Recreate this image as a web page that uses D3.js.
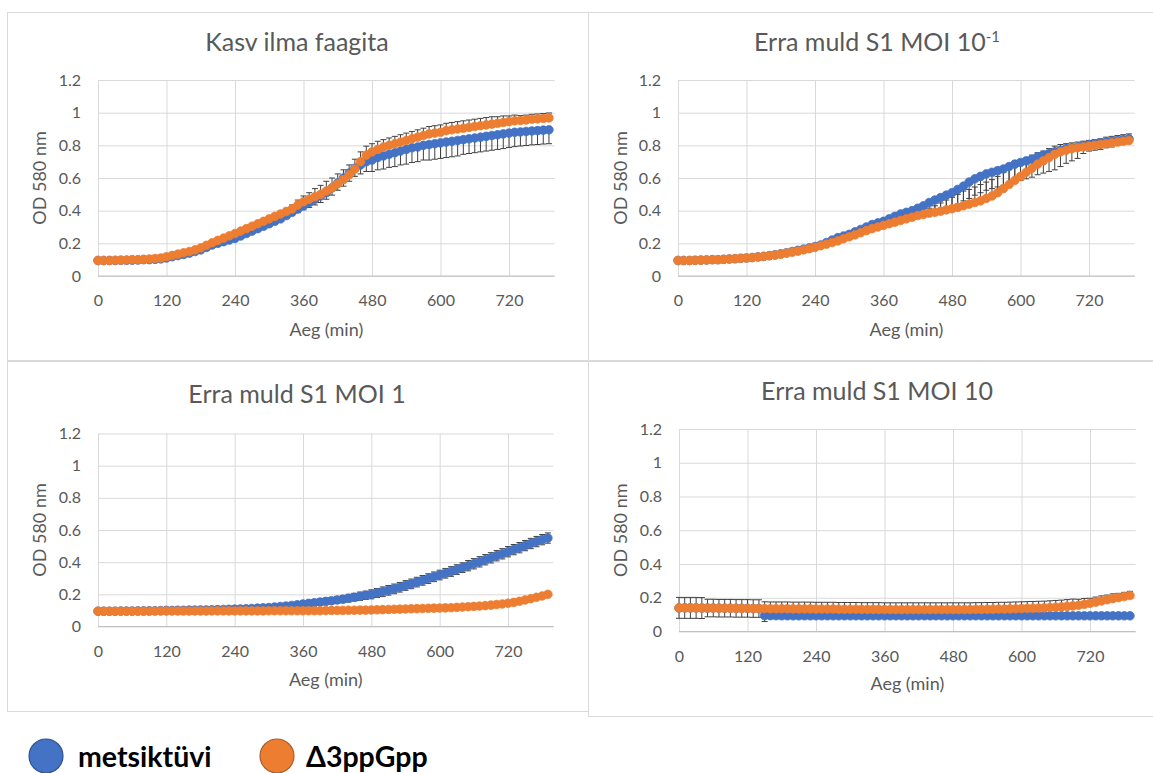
<!DOCTYPE html>
<html><head><meta charset="utf-8">
<script src="https://cdn.jsdelivr.net/npm/d3@7"></script>
<style>
body{margin:0;background:#fff}
svg{display:block}
text{font-family:Lato,"Open Sans",sans-serif}
</style>
</head><body>
<svg id="chart" width="1153" height="773"></svg>
<script>
// ---------- data ----------
const times = [0,10,20,30,40,50,60,70,80,90,100,110,120,130,140,150,160,170,180,190,
200,210,220,230,240,250,260,270,280,290,300,310,320,330,340,350,360,370,380,390,
400,410,420,430,440,450,460,470,480,490,500,510,520,530,540,550,560,570,580,590,
600,610,620,630,640,650,660,670,680,690,700,710,720,730,740,750,760,770,780,790];

const xTicks = [0,120,240,360,480,600,720];
const yTicks = [0,0.2,0.4,0.6,0.8,1,1.2];
const yTickLabels = ["0","0.2","0.4","0.6","0.8","1","1.2"];
const seriesNames = ["metsiktüvi","Δ3ppGpp"];
const panelTitles = ["Kasv ilma faagita","Erra muld S1 MOI 10","Erra muld S1 MOI 1","Erra muld S1 MOI 10"];
const panelTitleSup = ["","-1","",""];
const xAxisTitle = "Aeg (min)";
const yAxisTitle = "OD 580 nm";

// Panel 1: Kasv ilma faagita
const p1Wild = [0.095,0.095,0.095,0.095,0.096,0.096,0.097,0.098,0.100,0.100,
0.102,0.105,0.110,0.118,0.125,0.132,0.140,0.150,0.160,0.175,
0.190,0.200,0.210,0.220,0.230,0.245,0.260,0.275,0.290,0.305,
0.320,0.335,0.350,0.370,0.390,0.410,0.430,0.450,0.470,0.490,
0.510,0.540,0.570,0.600,0.630,0.660,0.680,0.700,0.710,0.725,
0.735,0.745,0.755,0.765,0.775,0.785,0.790,0.800,0.805,0.810,
0.815,0.820,0.825,0.830,0.835,0.840,0.845,0.850,0.855,0.860,
0.865,0.870,0.875,0.880,0.882,0.885,0.888,0.890,0.893,0.895];
const p1Mut = [0.095,0.095,0.095,0.096,0.097,0.098,0.100,0.100,0.102,0.104,
0.107,0.110,0.118,0.126,0.134,0.142,0.150,0.160,0.172,0.188,
0.204,0.218,0.232,0.246,0.260,0.275,0.290,0.305,0.320,0.335,
0.350,0.365,0.380,0.395,0.410,0.435,0.455,0.470,0.485,0.500,
0.520,0.540,0.565,0.590,0.620,0.655,0.700,0.740,0.760,0.775,
0.790,0.800,0.810,0.820,0.830,0.840,0.850,0.860,0.870,0.875,
0.880,0.890,0.895,0.900,0.905,0.910,0.915,0.920,0.925,0.930,
0.935,0.940,0.945,0.950,0.952,0.955,0.960,0.962,0.965,0.968];
// wild type: minus error bars; mutant: plus error bars
const p1WildErr = [0.01,0.01,0.01,0.01,0.01,0.01,0.01,0.01,0.01,0.01,
0.01,0.01,0.01,0.01,0.01,0.01,0.01,0.01,0.01,0.01,
0.01,0.01,0.01,0.01,0.01,0.01,0.01,0.01,0.01,0.01,
0.012,0.014,0.016,0.018,0.02,0.022,0.025,0.03,0.035,0.04,
0.04,0.045,0.045,0.05,0.05,0.05,0.055,0.06,0.07,0.075,
0.08,0.08,0.085,0.085,0.09,0.09,0.09,0.09,0.095,0.095,
0.095,0.095,0.095,0.095,0.09,0.09,0.09,0.09,0.09,0.09,
0.09,0.09,0.088,0.088,0.086,0.086,0.085,0.085,0.085,0.085];
const p1MutErr = [0.008,0.008,0.008,0.008,0.008,0.008,0.008,0.008,0.008,0.008,
0.008,0.008,0.008,0.008,0.008,0.008,0.008,0.008,0.008,0.008,
0.008,0.008,0.008,0.008,0.008,0.008,0.008,0.008,0.008,0.008,
0.012,0.015,0.018,0.02,0.025,0.03,0.035,0.04,0.05,0.055,
0.06,0.06,0.06,0.06,0.06,0.06,0.06,0.055,0.05,0.05,
0.045,0.045,0.045,0.045,0.045,0.045,0.045,0.045,0.045,0.045,
0.045,0.045,0.045,0.045,0.045,0.045,0.045,0.045,0.045,0.045,
0.04,0.04,0.035,0.035,0.03,0.03,0.03,0.03,0.03,0.03];

// Panel 2: MOI 10^-1
const p2Wild = [0.095,0.095,0.095,0.096,0.097,0.098,0.100,0.100,0.102,0.104,
0.106,0.108,0.110,0.113,0.117,0.120,0.125,0.130,0.136,0.142,
0.150,0.157,0.165,0.172,0.180,0.190,0.205,0.220,0.235,0.245,
0.255,0.270,0.285,0.300,0.315,0.325,0.335,0.350,0.365,0.380,
0.390,0.400,0.415,0.430,0.450,0.465,0.480,0.495,0.510,0.530,
0.550,0.575,0.595,0.610,0.625,0.635,0.645,0.655,0.670,0.685,
0.695,0.705,0.715,0.730,0.740,0.750,0.760,0.770,0.780,0.785,
0.790,0.800,0.805,0.810,0.815,0.820,0.825,0.830,0.835,0.840];
const p2Mut = [0.095,0.095,0.095,0.096,0.097,0.098,0.100,0.100,0.102,0.104,
0.106,0.108,0.110,0.113,0.116,0.120,0.124,0.128,0.133,0.140,
0.146,0.152,0.160,0.167,0.175,0.185,0.195,0.205,0.215,0.228,
0.240,0.252,0.265,0.278,0.290,0.300,0.310,0.320,0.330,0.340,
0.350,0.360,0.370,0.377,0.385,0.390,0.397,0.405,0.412,0.420,
0.430,0.440,0.450,0.460,0.475,0.490,0.510,0.535,0.560,0.585,
0.610,0.635,0.660,0.685,0.705,0.725,0.745,0.760,0.770,0.780,
0.785,0.790,0.795,0.800,0.805,0.810,0.815,0.820,0.825,0.830];
const p2WildErr = [0.01,0.01,0.01,0.01,0.01,0.01,0.01,0.01,0.01,0.01,
0.01,0.01,0.01,0.01,0.01,0.01,0.01,0.01,0.01,0.01,
0.01,0.01,0.01,0.01,0.01,0.01,0.01,0.01,0.01,0.01,
0.01,0.01,0.01,0.01,0.01,0.01,0.01,0.01,0.01,0.01,
0.015,0.02,0.03,0.04,0.05,0.06,0.07,0.08,0.08,0.09,
0.09,0.1,0.1,0.1,0.1,0.1,0.1,0.1,0.1,0.11,
0.11,0.11,0.11,0.11,0.11,0.11,0.11,0.1,0.09,0.08,
0.07,0.05,0.04,0.04,0.04,0.035,0.035,0.03,0.03,0.03];
const p2MutErr = [0.01,0.01,0.01,0.01,0.01,0.01,0.01,0.01,0.01,0.01,
0.01,0.01,0.01,0.01,0.01,0.01,0.01,0.01,0.01,0.01,
0.01,0.01,0.01,0.01,0.01,0.01,0.01,0.01,0.01,0.01,
0.01,0.01,0.01,0.01,0.01,0.01,0.01,0.01,0.01,0.01,
0.01,0.01,0.01,0.01,0.03,0.04,0.05,0.06,0.07,0.08,
0.09,0.09,0.095,0.1,0.1,0.1,0.1,0.1,0.1,0.095,
0.09,0.085,0.08,0.07,0.06,0.055,0.05,0.045,0.04,0.035,
0.035,0.035,0.035,0.035,0.035,0.04,0.04,0.04,0.04,0.04];

// Panel 3: MOI 1
const p3Wild = [0.095,0.095,0.095,0.095,0.096,0.096,0.096,0.097,0.097,0.098,
0.098,0.099,0.100,0.100,0.101,0.101,0.102,0.102,0.103,0.103,
0.104,0.105,0.106,0.107,0.108,0.109,0.110,0.112,0.114,0.116,
0.118,0.121,0.124,0.127,0.131,0.135,0.140,0.144,0.148,0.152,
0.156,0.160,0.165,0.170,0.176,0.182,0.188,0.194,0.200,0.208,
0.216,0.225,0.234,0.244,0.255,0.265,0.276,0.287,0.298,0.309,
0.320,0.331,0.342,0.354,0.366,0.378,0.390,0.402,0.415,0.427,
0.440,0.452,0.465,0.478,0.490,0.503,0.516,0.528,0.540,0.550];
const p3Mut = [0.095,0.095,0.095,0.095,0.095,0.095,0.095,0.095,0.095,0.095,
0.096,0.096,0.096,0.096,0.096,0.096,0.096,0.096,0.096,0.096,
0.097,0.097,0.097,0.097,0.097,0.097,0.097,0.097,0.097,0.097,
0.098,0.098,0.098,0.098,0.098,0.098,0.098,0.098,0.098,0.098,
0.099,0.100,0.100,0.100,0.101,0.101,0.102,0.102,0.103,0.104,
0.105,0.106,0.107,0.108,0.109,0.110,0.111,0.112,0.113,0.114,
0.115,0.116,0.117,0.119,0.121,0.123,0.125,0.127,0.130,0.133,
0.137,0.140,0.145,0.150,0.157,0.165,0.173,0.182,0.190,0.200];
const p3WildErr = [0.006,0.006,0.006,0.006,0.006,0.006,0.006,0.006,0.006,0.006,
0.006,0.006,0.006,0.006,0.006,0.006,0.006,0.006,0.006,0.006,
0.006,0.006,0.006,0.006,0.006,0.006,0.006,0.006,0.006,0.006,
0.01,0.01,0.012,0.012,0.014,0.014,0.016,0.016,0.018,0.018,
0.02,0.02,0.022,0.022,0.024,0.024,0.026,0.026,0.028,0.028,
0.03,0.03,0.03,0.03,0.03,0.03,0.03,0.03,0.03,0.03,
0.03,0.03,0.03,0.03,0.03,0.032,0.032,0.032,0.032,0.032,
0.032,0.032,0.032,0.032,0.032,0.032,0.032,0.032,0.032,0.032];
const p3MutErr = [0.005,0.005,0.005,0.005,0.005,0.005,0.005,0.005,0.005,0.005,
0.005,0.005,0.005,0.005,0.005,0.005,0.005,0.005,0.005,0.005,
0.005,0.005,0.005,0.005,0.005,0.005,0.005,0.005,0.005,0.005,
0.005,0.005,0.005,0.005,0.005,0.005,0.005,0.005,0.005,0.005,
0.005,0.005,0.005,0.005,0.005,0.005,0.005,0.005,0.005,0.005,
0.005,0.005,0.005,0.005,0.005,0.005,0.005,0.005,0.005,0.005,
0.006,0.006,0.006,0.006,0.006,0.006,0.006,0.006,0.006,0.006,
0.007,0.007,0.007,0.007,0.007,0.007,0.007,0.007,0.007,0.007];

// Panel 4: MOI 10 (wild type lies under the mutant series until ~140 min)
const p4Wild = [0.140,0.140,0.140,0.140,0.139,0.139,0.139,0.138,0.138,0.138,
0.137,0.137,0.137,0.136,0.136,0.094,0.094,0.094,0.093,0.093,
0.093,0.093,0.093,0.093,0.093,0.093,0.093,0.093,0.093,0.093,
0.093,0.093,0.093,0.093,0.093,0.093,0.093,0.093,0.093,0.093,
0.093,0.093,0.093,0.093,0.093,0.093,0.093,0.093,0.093,0.093,
0.093,0.093,0.093,0.093,0.093,0.093,0.093,0.093,0.093,0.093,
0.093,0.093,0.093,0.093,0.093,0.093,0.093,0.093,0.093,0.093,
0.093,0.093,0.093,0.093,0.093,0.093,0.093,0.093,0.093,0.093];
const p4Mut = [0.140,0.140,0.140,0.140,0.139,0.139,0.139,0.138,0.138,0.138,
0.137,0.137,0.137,0.136,0.136,0.136,0.135,0.135,0.135,0.135,
0.134,0.134,0.134,0.134,0.133,0.133,0.133,0.133,0.132,0.132,
0.132,0.132,0.131,0.131,0.131,0.131,0.130,0.130,0.130,0.130,
0.130,0.130,0.130,0.130,0.130,0.130,0.130,0.130,0.130,0.130,
0.130,0.130,0.131,0.131,0.132,0.132,0.133,0.133,0.134,0.135,
0.136,0.137,0.138,0.139,0.140,0.142,0.144,0.146,0.149,0.152,
0.156,0.161,0.167,0.174,0.181,0.188,0.195,0.201,0.207,0.213];
const p4WildErr = [0.062,0.062,0.062,0.062,0.062,0.052,0.052,0.052,0.052,0.052,
0.052,0.052,0.052,0.052,0.052,0.035,0.006,0.006,0.006,0.006,
0.006,0.006,0.006,0.006,0.006,0.006,0.006,0.006,0.006,0.006,
0.006,0.006,0.006,0.006,0.006,0.006,0.006,0.006,0.006,0.006,
0.006,0.006,0.006,0.006,0.006,0.006,0.006,0.006,0.006,0.006,
0.006,0.006,0.006,0.006,0.006,0.006,0.006,0.006,0.006,0.006,
0.006,0.006,0.006,0.006,0.006,0.006,0.006,0.006,0.006,0.006,
0.006,0.006,0.006,0.006,0.006,0.006,0.006,0.006,0.006,0.006];
const p4MutErr = [0.062,0.062,0.062,0.062,0.062,0.052,0.052,0.052,0.052,0.052,
0.052,0.052,0.052,0.052,0.052,0.04,0.04,0.04,0.04,0.04,
0.04,0.04,0.04,0.04,0.04,0.04,0.04,0.04,0.04,0.04,
0.04,0.04,0.04,0.04,0.04,0.04,0.04,0.04,0.04,0.04,
0.04,0.04,0.04,0.04,0.04,0.04,0.04,0.04,0.04,0.04,
0.04,0.04,0.04,0.04,0.04,0.04,0.04,0.04,0.04,0.04,
0.04,0.04,0.04,0.04,0.04,0.04,0.04,0.04,0.04,0.04,
0.035,0.035,0.03,0.03,0.03,0.028,0.028,0.025,0.025,0.025];

// ---------- layout / style ----------
const colors = ["#4472C4", "#ED7D31"];
const legendStroke = ["#2F528F", "#A65F2E"];
const textColor = "#595959";
const gridColor = "#D9D9D9";
const xMax = 800, yMax = 1.2;

const panels = [
  {title:0, box:[7,12,588,360], plot:{x0:98, x720:509, yb:276, yt:80}, titleX:297, titleY:51, yTitleX:40, xTitleY:336,
   series:[[p1Wild,p1WildErr,"minus"],[p1Mut,p1MutErr,"plus"]]},
  {title:1, box:[588,12,1160,360], plot:{x0:678, x720:1089, yb:276, yt:80}, titleX:877, titleY:51, yTitleX:621, xTitleY:336,
   series:[[p2Wild,p2WildErr,"minus"],[p2Mut,p2MutErr,"plus"]]},
  {title:2, box:[7,361,588,711], plot:{x0:98, x720:508, yb:626.5, yt:433.5}, titleX:297, titleY:403, yTitleX:40, xTitleY:686,
   series:[[p3Wild,p3WildErr,"both"],[p3Mut,p3MutErr,"plus"]]},
  {title:3, box:[588,361,1160,716], plot:{x0:679, x720:1090, yb:631.5, yt:429}, titleX:877, titleY:400, yTitleX:621, xTitleY:690,
   series:[[p4Wild,p4WildErr,"minus"],[p4Mut,p4MutErr,"plus"]]}
];

const svg = d3.select("#chart");
svg.append("rect").attr("width",1153).attr("height",773).attr("fill","#fff");

panels.forEach(p => {
  const g = svg.append("g");
  const [bx0,by0,bx1,by1] = p.box;
  g.append("rect").attr("x",bx0+0.5).attr("y",by0+0.5).attr("width",bx1-bx0).attr("height",by1-by0)
    .attr("fill","#fff").attr("stroke",gridColor).attr("stroke-width",1);

  const pxPerMin = (p.plot.x720 - p.plot.x0)/720;
  const x = d3.scaleLinear().domain([0,xMax]).range([p.plot.x0, p.plot.x0 + pxPerMin*xMax]);
  const y = d3.scaleLinear().domain([0,yMax]).range([p.plot.yb, p.plot.yt]);

  g.append("g").attr("transform",`translate(${x(0)},0)`)
    .call(d3.axisLeft(y).tickValues(yTicks).tickSize(-(x(xMax)-x(0))).tickFormat(""))
    .call(s=>s.select(".domain").remove())
    .call(s=>s.selectAll("line").attr("stroke",gridColor).attr("stroke-width",1));
  g.append("g").attr("transform",`translate(0,${y(0)})`)
    .call(d3.axisBottom(x).tickValues(xTicks).tickSize(-(y(0)-y(yMax))).tickFormat(""))
    .call(s=>s.select(".domain").remove())
    .call(s=>s.selectAll("line").attr("stroke",gridColor).attr("stroke-width",1));
  g.append("line").attr("x1",x(0)).attr("x2",x(xMax)).attr("y1",y(0)).attr("y2",y(0))
    .attr("stroke","#BFBFBF").attr("stroke-width",1);

  g.append("g").attr("transform",`translate(0,${y(0)})`)
    .call(d3.axisBottom(x).tickValues(xTicks).tickSize(0).tickPadding(19).tickFormat(d3.format("d")))
    .call(s=>s.select(".domain").remove())
    .call(s=>s.selectAll("text").attr("fill",textColor).attr("font-size",16).attr("font-family","Lato, sans-serif"));
  g.append("g").attr("transform",`translate(${x(0)},0)`)
    .call(d3.axisLeft(y).tickValues(yTicks).tickSize(0).tickPadding(17).tickFormat((d,i)=>yTickLabels[i]))
    .call(s=>s.select(".domain").remove())
    .call(s=>s.selectAll("text").attr("fill",textColor).attr("font-size",16).attr("font-family","Lato, sans-serif"));

  const t = g.append("text").attr("x",p.titleX).attr("y",p.titleY).attr("text-anchor","middle")
    .attr("fill",textColor).attr("font-size",25).text(panelTitles[p.title]);
  if (panelTitleSup[p.title]) {
    t.append("tspan").attr("dy",-9).attr("font-size",15).text(panelTitleSup[p.title]);
  }
  g.append("text").attr("x",(x(0)+x(xMax))/2).attr("y",p.xTitleY).attr("text-anchor","middle")
    .attr("fill",textColor).attr("font-size",18).text(xAxisTitle);
  g.append("text").attr("transform",`translate(${p.yTitleX},${(y(0)+y(yMax))/2}) rotate(-90)`)
    .attr("text-anchor","middle").attr("dy","0.35em")
    .attr("fill",textColor).attr("font-size",18).text(yAxisTitle);

  // error bars first (beneath all markers)
  p.series.forEach(([vals, errs, dir]) => {
    const pts = times.map((tm,i)=>({t:tm, v:vals[i], e:errs[i]})).filter(d=>d.v!=null);
    const eg = g.append("g").attr("stroke","#404040").attr("stroke-width",1);
    pts.forEach(d => {
      const xx = x(d.t);
      const ylo = dir==="plus" ? y(d.v) : y(d.v - d.e);
      const yhi = dir==="minus" ? y(d.v) : y(d.v + d.e);
      eg.append("line").attr("x1",xx).attr("x2",xx).attr("y1",ylo).attr("y2",yhi);
      if (dir!=="plus") eg.append("line").attr("x1",xx-3).attr("x2",xx+3).attr("y1",ylo).attr("y2",ylo);
      if (dir!=="minus") eg.append("line").attr("x1",xx-3).attr("x2",xx+3).attr("y1",yhi).attr("y2",yhi);
    });
  });
  p.series.forEach(([vals], si) => {
    const pts = times.map((tm,i)=>({t:tm, v:vals[i]})).filter(d=>d.v!=null);
    g.append("g").selectAll("circle").data(pts).join("circle")
      .attr("cx",d=>x(d.t)).attr("cy",d=>y(d.v)).attr("r",4.3)
      .attr("fill",colors[si]).attr("stroke",colors[si]).attr("stroke-width",0.8);
  });
});

// legend
const legendX = [46, 277];
const legendTextX = [78, 306];
seriesNames.forEach((name,i)=>{
  svg.append("ellipse").attr("cx",legendX[i]).attr("cy",756).attr("rx",17).attr("ry",17)
    .attr("fill",colors[i]).attr("stroke",legendStroke[i]).attr("stroke-width",1.2);
  svg.append("text").attr("x",legendTextX[i]).attr("y",767).attr("font-size",28.5).attr("font-weight","bold")
    .attr("fill","#000").text(name);
});
</script>
</body></html>
